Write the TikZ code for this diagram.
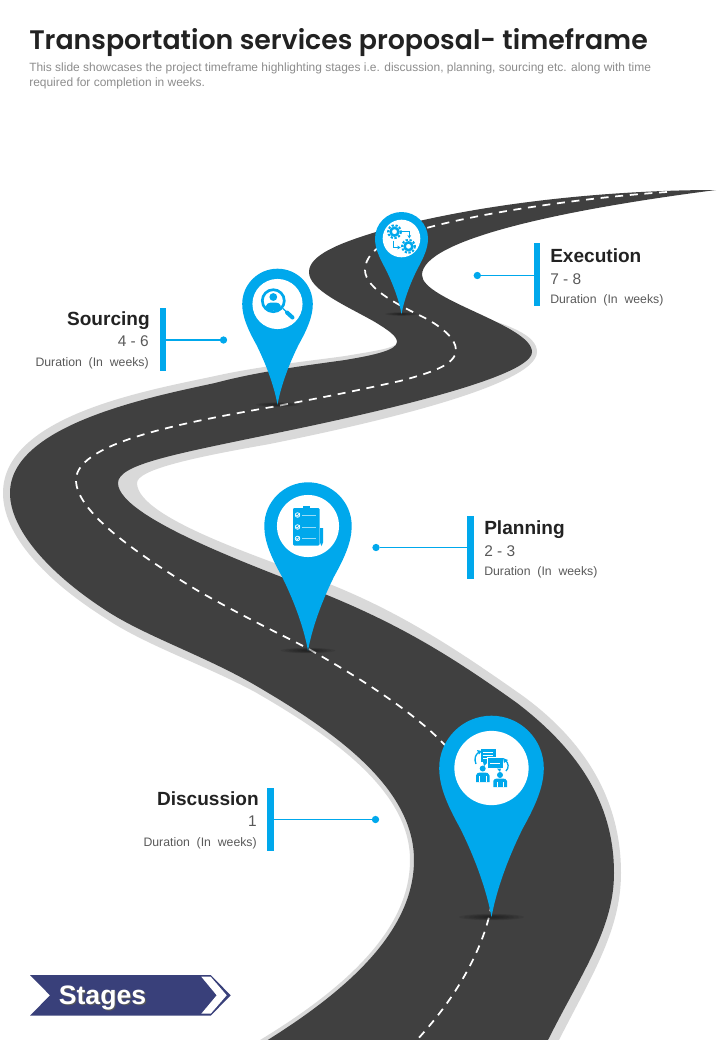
\documentclass[tikz,border=0pt]{standalone}
\usepackage{fontspec}
\usetikzlibrary{arrows.meta}
\setmainfont{Liberation Sans}
\newfontfamily\titlefont{Poppins}[BoldFont={Poppins SemiBold}]
\newfontfamily\durfont{Liberation Sans}[WordSpace=2.0]
\definecolor{roadc}{HTML}{404040}
\definecolor{edgec}{HTML}{D9D9D9}
\definecolor{pinc}{HTML}{00A8EC}
\definecolor{navy}{HTML}{39407A}
\definecolor{headc}{HTML}{222222}
\definecolor{numc}{HTML}{595959}
\definecolor{subc}{HTML}{8C8C8C}
\tikzset{
  barbox/.style={fill=pinc,minimum width=4.8pt,minimum height=47.25pt,inner sep=0pt,outer sep=0pt},
  dotbox/.style={circle,fill=pinc,minimum size=5.5pt,inner sep=0pt,outer sep=0pt},
  leader/.style={draw=pinc,line width=0.8pt},
  headtxt/.style={font=\fontsize{14.3}{16}\selectfont\bfseries,text=headc,inner sep=0pt},
  numtxt/.style={font=\fontsize{11.6}{14}\selectfont,text=numc,inner sep=0pt},
  durtxt/.style={font=\durfont\fontsize{9.2}{11}\selectfont,text=numc,inner sep=0pt},
  centerdash/.style={draw=white,line width=1.3pt,dash pattern=on 6pt off 5pt},
  iconw/.style={draw=white,line width=0.55pt},
}
\newcommand{\pinshape}[3]{%
  \foreach \k in {1,0.85,0.7,0.55,0.4,0.25}{
    \fill[black,opacity=0.08] (#1,#2+2.85*#3) ellipse ({#3*0.62*\k} and {#3*0.055*\k+0.3});
  }
  \fill[pinc,shift={(#1,#2)},scale=#3] (-1,0) .. controls (-1,-.552) and (-.552,-1) .. (0,-1)
    .. controls (.552,-1) and (1,-.552) .. (1,0)
    .. controls (1,.35) and (.85,.7) .. (.6,1.15)
    .. controls (.4,1.55) and (.12,2.2) .. (0,2.85)
    .. controls (-.12,2.2) and (-.4,1.55) .. (-.6,1.15)
    .. controls (-.85,.7) and (-1,.35) .. (-1,0) -- cycle;
  \fill[white] (#1,#2) circle ({#3*0.71});
}
\newcommand{\gearicon}[2]{%
  \draw[pinc,line width=1.9pt] (#1,#2) circle (3.9);
  \draw[pinc,line width=1.5pt,dash pattern=on 1.7pt off 1.2pt] (#1,#2) circle (6.4);
}
\begin{document}
\begin{tikzpicture}[x=0.75pt,y=-0.75pt]
\useasboundingbox (0,0) rectangle (720,1040);
\clip (0,0) rectangle (720,1040);
% road edge
\fill[edgec] (397,342) .. controls (397,348) and (375,351) .. (345,356)
  .. controls (310,361) and (260,366) .. (215,376)
  .. controls (150,390) and (3,415) .. (3,493)
  .. controls (3,535) and (45,580) .. (105,618)
  .. controls (145,645) and (205,665) .. (255,692)
  .. controls (335,738) and (410,792) .. (410,860)
  .. controls (410,930) and (345,990) .. (250,1046)
  -- (556,1046)
  .. controls (590,978) and (621,932) .. (621,873)
  .. controls (621,805) and (590,745) .. (523,696)
  .. controls (455,648) and (400,612) .. (327,583)
  .. controls (280,563) and (137,520) .. (137,483)
  .. controls (137,470) and (190,458) .. (267,444.5)
  .. controls (345,429) and (537,388) .. (537,352)
  .. controls (537,335) and (510,325) .. (465,312) -- cycle;
% road
\fill[roadc] (716,190) .. controls (600,190) and (470,205) .. (376,232)
  .. controls (340,243) and (309,255) .. (309,272)
  .. controls (309,290) and (345,305) .. (375,322)
  .. controls (388,330) and (397,336) .. (397,342)
  .. controls (397,350) and (375,355) .. (345,360)
  .. controls (310,365) and (260,371) .. (215,383)
  .. controls (150,397) and (10,425) .. (10,493)
  .. controls (10,530) and (50,575) .. (110,613)
  .. controls (150,638) and (210,658) .. (260,688)
  .. controls (340,735) and (414,790) .. (414,860)
  .. controls (414,930) and (350,990) .. (258,1046)
  -- (545,1046)
  .. controls (580,975) and (614,930) .. (614,873)
  .. controls (614,810) and (585,755) .. (517,703)
  .. controls (450,655) and (400,625) .. (327,595)
  .. controls (280,575) and (118,520) .. (118,483)
  .. controls (118,465) and (170,455) .. (267,435)
  .. controls (340,420) and (532,380) .. (532,352)
  .. controls (532,325) and (422,300) .. (422,275)
  .. controls (422,240) and (560,210) .. (716,190) -- cycle;
% centre line
\draw[centerdash] (667,192) .. controls (590,197) and (450,215) .. (390,240)
  .. controls (375,248) and (365,258) .. (365,270)
  .. controls (365,290) and (405,308) .. (425,318)
  .. controls (440,326) and (456,338) .. (456,350)
  .. controls (456,365) and (430,373) .. (400,381)
  .. controls (350,392) and (330,396) .. (277,406)
  .. controls (200,420) and (76,440) .. (76,480)
  .. controls (76,510) and (130,550) .. (200,592)
  .. controls (250,620) and (280,634) .. (307,648)
  .. controls (360,678) and (410,710) .. (440,740)
  .. controls (480,780) and (505,850) .. (489,917)
  .. controls (478,960) and (450,1005) .. (415,1042);
% pins
\pinshape{491.5}{768}{52.3}
\pinshape{308}{526}{43.7}
\pinshape{277.5}{304}{35.3}
\pinshape{401.5}{238.5}{26.5}
% icon: discussion
\fill[pinc] (480.7,749) rectangle (495.5,762);
\fill[pinc] (483,762) -- (488,762) -- (484,766) -- cycle;
\foreach \yy in {752.5,755.5,758.5}{\draw[iconw] (483,\yy) -- (493,\yy);}
\fill[pinc,draw=white,line width=0.5pt] (487,757.5) rectangle (503,768.5);
\draw[iconw] (490,763) -- (500,763);
\fill[pinc] (497,768.5) -- (501,768.5) -- (500,772) -- cycle;
\fill[pinc] (482.7,768.5) circle (3);
\fill[pinc] (476,782) -- (476,775.5) .. controls (476,773) and (478,772.5) .. (482.7,772.5) .. controls (487,772.5) and (489.5,773) .. (489.5,775.5) -- (489.5,782) -- cycle;
\fill[pinc] (500,775) circle (3);
\fill[pinc] (493.3,787) -- (493.3,781) .. controls (493.3,779) and (495,778.5) .. (500,778.5) .. controls (505,778.5) and (507,779) .. (507,781) -- (507,787) -- cycle;
\draw[iconw] (479.5,776) -- (479.5,782) (486,776) -- (486,782) (497,782) -- (497,787) (503.5,782) -- (503.5,787);
\draw[pinc,line width=1pt] (479,752) .. controls (475,755) and (474,759) .. (476,764);
\draw[pinc,line width=1pt] (505,760) .. controls (509,763) and (509,768) .. (506,771);
\fill[pinc] (477,750) -- (482,751) -- (479,754.5) -- cycle;
\fill[pinc] (503,758) -- (508,760) -- (504,763) -- cycle;
% icon: planning
\fill[pinc,rounded corners=0.8pt] (293,508) rectangle (319.5,545.5);
\fill[pinc] (303,506) rectangle (310,509);
\foreach \yy in {515,527,538.5}{
  \draw[iconw] (297.5,\yy) circle (2.3);
  \draw[iconw] (296.3,\yy) -- (297.3,\yy+1.1) -- (299.6,\yy-1.7);
  \draw[draw=white,line width=0.7pt,opacity=.6] (302,\yy) -- (316,\yy);
}
\fill[pinc] (320,528) -- (323,528) -- (323,542.5) -- (321.5,546) -- (320,542.5) -- cycle;
% icon: sourcing
\draw[pinc,line width=2pt] (273.3,300.7) circle (11);
\fill[pinc] (273.3,297) circle (3.9);
\fill[pinc] (265.5,308.5) .. controls (266,303) and (269,302.5) .. (273.3,302.5) .. controls (278,302.5) and (281,303) .. (281,308.5) .. controls (277,311) and (270,311) .. (265.5,308.5) -- cycle;
\draw[pinc,line width=0.9pt] (283,308.5) -- (286,311.5);
\draw[pinc,line width=3pt,line cap=round] (287,312.5) -- (292.5,317.5);
% icon: execution
\gearicon{394.5}{231.7}
\gearicon{408.5}{246.3}
\draw[pinc,line width=0.65pt,-{Stealth[length=2.6pt,width=2.8pt]}] (402.3,231.5) -- (409.3,231.5) -- (409.3,238.5);
\draw[pinc,line width=0.65pt,-{Stealth[length=2.6pt,width=2.8pt]}] (393.7,240.5) -- (393.7,247.5) -- (400.7,247.5);
% labels
\node[dotbox] (dotE) at (477.3,275.5) {};
\node[barbox] (barE) at (537,274.5) {};
\draw[leader] (dotE) -- (dotE -| barE.west);
\node[headtxt,anchor=base west] (hE) at (550,262) {Execution};
\node[numtxt,anchor=base west] (nE) at (550,284) {7 - 8};
\node[durtxt,anchor=base west] (dE) at (550,303) {Duration (In weeks)};

\node[dotbox] (dotS) at (223.5,340) {};
\node[barbox] (barS) at (163,339.5) {};
\draw[leader] (dotS) -- (dotS -| barS.east);
\node[headtxt,anchor=base east] (hS) at (150,325) {Sourcing};
\node[numtxt,anchor=base east] (nS) at (149,346) {4 - 6};
\node[durtxt,anchor=base east] (dS) at (149,366) {Duration (In weeks)};

\node[dotbox] (dotP) at (376,547.5) {};
\node[barbox] (barP) at (470.5,547.5) {};
\draw[leader] (dotP) -- (dotP -| barP.west);
\node[headtxt,anchor=base west] (hP) at (484,534) {Planning};
\node[numtxt,anchor=base west] (nP) at (484,556) {2 - 3};
\node[durtxt,anchor=base west] (dP) at (484,575) {Duration (In weeks)};

\node[dotbox] (dotD) at (375.5,819.5) {};
\node[barbox] (barD) at (270.5,819.5) {};
\draw[leader] (dotD) -- (dotD -| barD.east);
\node[headtxt,anchor=base east] (hD) at (259,805) {Discussion};
\node[numtxt,anchor=base east] (nD) at (257,826) {1};
\node[durtxt,anchor=base east] (dD) at (257,846) {Duration (In weeks)};
% title
\node[anchor=base west,inner sep=0pt,text=headc,font=\titlefont\fontsize{20.1}{24}\selectfont\bfseries] (title) at (29,49.5) {Transportation services proposal- timeframe};
\node[anchor=base west,inner sep=0pt,text=subc,align=left,font=\fontsize{8.98}{11.25}\selectfont] (sub) at (29,86) {This slide showcases the project timeframe highlighting stages i.e. discussion, planning, sourcing etc. along with time\\required for completion in weeks.};
% stages
\fill[navy] (30,975) -- (210.7,975) -- (230.7,995.3) -- (210.7,1015.7) -- (30,1015.7) -- (50,995.3) -- cycle;
\fill[white] (201.3,976.7) -- (210.7,976.7) -- (226.7,995.3) -- (210.7,1013.7) -- (201.3,1013.7) -- (216.7,995.3) -- cycle;
\node[anchor=base west,inner sep=0pt,text=white,font=\fontsize{20}{24}\selectfont\bfseries] (stages) at (58.5,1004) {\rlap{\kern0.9pt\raisebox{-0.9pt}{\textcolor{black!65}{Stages}}}Stages};
\end{tikzpicture}
\end{document}
